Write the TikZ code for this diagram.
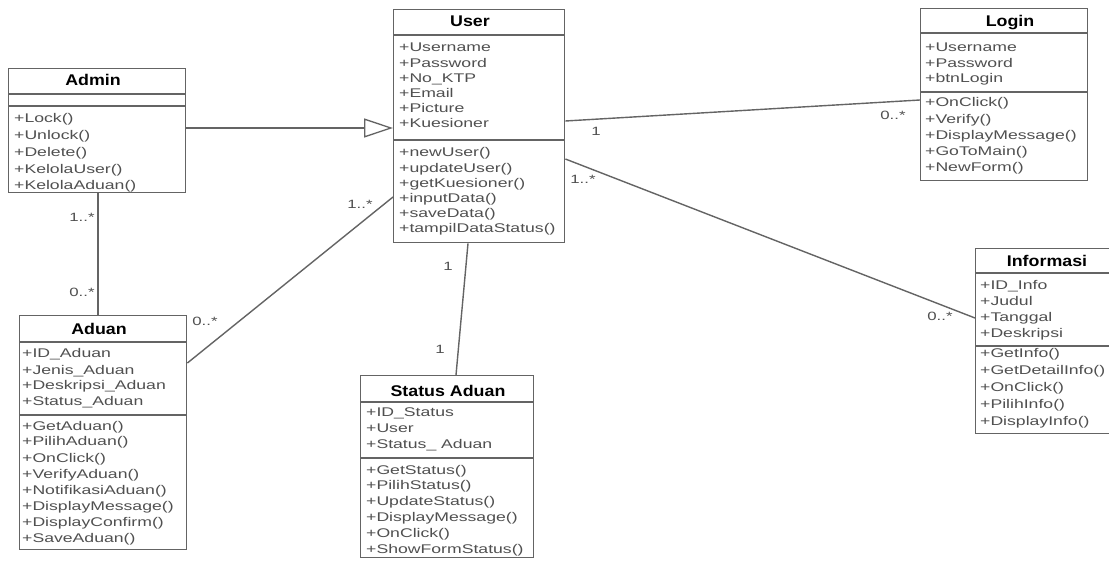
\documentclass[tikz,border=0pt]{standalone}
\usepackage{fontspec}
\setmainfont{Liberation Sans}
\newfontfamily\bodyfont{Liberation Sans}[FakeStretch=1.4]
\newfontfamily\titlefont{Liberation Sans}[FakeStretch=1.15]
\usetikzlibrary{arrows.meta}
\definecolor{linegray}{RGB}{100,100,100}
\definecolor{txtgray}{RGB}{80,80,80}

% one text node per member line: name, x, first baseline, line step, items
\newcommand\memberlist[5]{%
  \foreach \t [count=\i] in {#5} {%
    \node[member] (#1-\i) at (#2,{#3+(\i-1)*#4}) {\t};}}

\begin{document}
\begin{tikzpicture}[x=1pt,y=-1pt,
  classbox/.style={draw=linegray, line width=1.4pt, fill=white,
    anchor=north west, inner sep=0pt},
  sep/.style={draw=linegray, line width=1.3pt},
  member/.style={anchor=base west, inner sep=0pt, text=txtgray,
    font=\bodyfont\fontsize{12.6}{15}\selectfont},
  title/.style={anchor=base, inner sep=0pt, text=black,
    font=\titlefont\bfseries\fontsize{15.5}{18}\selectfont},
  conn/.style={draw=linegray, line width=1.4pt},
  mult/.style={inner sep=0pt, text=txtgray,
    font=\bodyfont\fontsize{12}{14}\selectfont}]

\useasboundingbox (0,0) rectangle (1109,561);
\fill[white] (0,0) rectangle (1109,561);
\clip (0,0) rectangle (1109,561);

% ---------- Admin ----------
\node[classbox, minimum width=177pt, minimum height=124pt] (admin) at (8,68) {};
\draw[sep] (admin.west |- 0,94) -- (admin.east |- 0,94);
\draw[sep] (admin.west |- 0,106) -- (admin.east |- 0,106);
\node[title] (admin-t) at (93,86) {Admin};
\memberlist{adminm}{14}{123}{16.75}{+Lock(),+Unlock(),+Delete(),+KelolaUser(),+KelolaAduan()}

% ---------- User ----------
\node[classbox, minimum width=171pt, minimum height=233pt] (user) at (393,9) {};
\draw[sep] (user.west |- 0,35) -- (user.east |- 0,35);
\draw[sep] (user.west |- 0,140) -- (user.east |- 0,140);
\node[title] (user-t) at (470,27) {User};
\memberlist{usera}{399}{52}{15.2}{+Username,+Password,+No\_KTP,+Email,+Picture,+Kuesioner}
\memberlist{userm}{399}{157}{15.2}{+newUser(),+updateUser(),+getKuesioner(),+inputData(),+saveData(),+tampilDataStatus()}

% ---------- Login ----------
\node[classbox, minimum width=167pt, minimum height=172pt] (login) at (920,8) {};
\draw[sep] (login.west |- 0,33) -- (login.east |- 0,33);
\draw[sep] (login.west |- 0,92) -- (login.east |- 0,92);
\node[title] (login-t) at (1010,27) {Login};
\memberlist{logina}{925}{52}{15.5}{+Username,+Password,+btnLogin}
\memberlist{loginm}{925}{107}{16.25}{+OnClick(),+Verify(),+DisplayMessage(),+GoToMain(),+NewForm()}

% ---------- Aduan ----------
\node[classbox, minimum width=167pt, minimum height=234pt] (aduan) at (19,315) {};
\draw[sep] (aduan.west |- 0,342) -- (aduan.east |- 0,342);
\draw[sep] (aduan.west |- 0,415) -- (aduan.east |- 0,415);
\node[title] (aduan-t) at (99,335) {Aduan};
\memberlist{aduana}{22}{358}{16}{+ID\_Aduan,+Jenis\_Aduan,+Deskripsi\_Aduan,+Status\_Aduan}
\memberlist{aduanm}{22}{430}{16}{+GetAduan(),+PilihAduan(),+OnClick(),+VerifyAduan(),+NotifikasiAduan(),+DisplayMessage(),+DisplayConfirm(),+SaveAduan()}

% ---------- Status Aduan ----------
\node[classbox, minimum width=173pt, minimum height=182pt] (status) at (360,375) {};
\draw[sep] (status.west |- 0,402) -- (status.east |- 0,402);
\draw[sep] (status.west |- 0,458) -- (status.east |- 0,458);
\node[title] (status-t) at (448,396) {Status Aduan};
\memberlist{statusa}{366}{417}{15.5}{+ID\_Status,+User,+Status\_ Aduan}
\memberlist{statusm}{366}{474}{15.8}{+GetStatus(),+PilihStatus(),+UpdateStatus(),+DisplayMessage(),+OnClick(),+ShowFormStatus()}

% ---------- Informasi ----------
\node[classbox, minimum width=145pt, minimum height=185pt] (info) at (975,248) {};
\draw[sep] (info.west |- 0,273) -- (info.east |- 0,273);
\draw[sep] (info.west |- 0,346) -- (info.east |- 0,346);
\node[title] (info-t) at (1047,267) {Informasi};
\memberlist{infoa}{980}{290}{15.7}{+ID\_Info,+Judul,+Tanggal,+Deskripsi}
\memberlist{infom}{980}{358}{16.75}{+GetInfo(),+GetDetailInfo(),+OnClick(),+PilihInfo(),+DisplayInfo()}

% ---------- Relations ----------
% generalization Admin -> User
\draw[conn, -{Triangle[open, length=29pt, width=19pt, line width=1.3pt]}]
  (admin.east |- 0,128) -- (user.west |- 0,128);
% associations
\draw[conn] (user.east |- 0,121) -- (login.west |- 0,100);
\draw[conn] (user.east |- 0,159) -- (info.west |- 0,318);
\draw[conn] (user.west |- 0,197) -- (aduan.east |- 0,363);
\draw[conn] (admin.south -| 98,0) -- (aduan.north -| 98,0);
\draw[conn] (user.south -| 468,0) -- (status.north -| 456,0);

% multiplicities
\node[mult] (m1) at (596,131) {1};
\node[mult] (m2) at (893,115) {0..*};
\node[mult] (m3) at (583,179) {1..*};
\node[mult] (m4) at (940,316) {0..*};
\node[mult] (m5) at (360,204) {1..*};
\node[mult] (m6) at (205,321) {0..*};
\node[mult] (m7) at (82,217) {1..*};
\node[mult] (m8) at (82,292) {0..*};
\node[mult] (m9) at (448,266) {1};
\node[mult] (m10) at (440,349) {1};
\end{tikzpicture}
\end{document}
